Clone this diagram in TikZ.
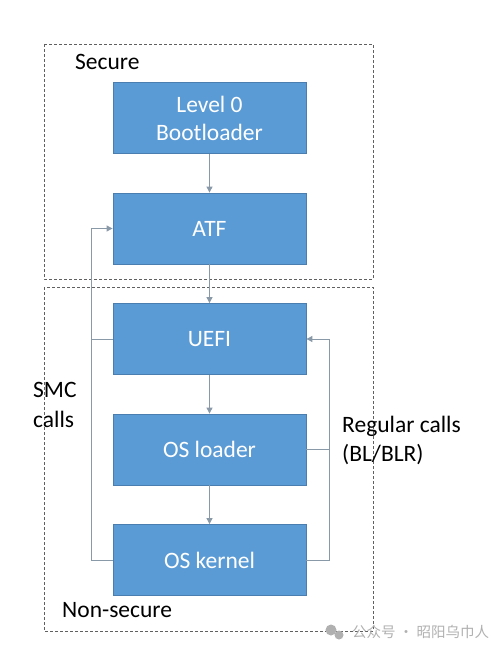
\documentclass[tikz,border=0pt]{standalone}
\usepackage{fontspec}
\setmainfont{Carlito}
\newfontfamily\cjk{Noto Sans CJK SC}
\usetikzlibrary{arrows.meta}
\definecolor{boxfill}{HTML}{5B9BD5}
\definecolor{boxedge}{HTML}{4A7EB0}
\definecolor{conn}{HTML}{8A99A8}
\definecolor{zonec}{HTML}{606060}
\definecolor{wmark}{HTML}{B0B0B0}
\begin{document}
\begin{tikzpicture}[x=1pt,y=-1pt,
  stagebox/.style={draw=boxedge, line width=0.8pt, fill=boxfill, text=white,
    minimum width=193pt, minimum height=71pt, align=center,
    font=\fontsize{23.5}{28}\selectfont, inner sep=0pt},
  zone/.style={draw=zonec, line width=0.6pt, dash pattern=on 3pt off 2pt},
  conline/.style={draw=conn, line width=0.9pt},
  arr/.style={conline, -{Triangle[length=6pt,width=6pt]}},
  lbl/.style={font=\fontsize{23.5}{29.5}\selectfont, text=black, inner sep=0pt}
]
\useasboundingbox (0,0) rectangle (503,652);
% zones
\draw[zone] (44,44) rectangle (373,279);
\draw[zone] (44,287) rectangle (373,631);
% stage boxes
\node[stagebox] (l0) at (209.5,118) {Level 0\\Bootloader};
\node[stagebox] (atf) at (209.5,228.5) {ATF};
\node[stagebox] (uefi) at (209.5,339) {UEFI};
\node[stagebox] (loader) at (209.5,449.5) {OS loader};
\node[stagebox] (kernel) at (209.5,560) {OS kernel};
% boot chain
\draw[arr] (l0) -- (atf);
\draw[arr] (atf) -- (uefi);
\draw[arr] (uefi) -- (loader);
\draw[arr] (loader) -- (kernel);
% SMC calls
\coordinate (smc) at (91,228.5);
\draw[arr] (kernel.west) -| (smc) -- (atf.west);
\draw[conline] (uefi.west) -- (uefi.west -| smc);
% regular calls
\coordinate (reg) at (329,339);
\draw[arr] (kernel.east) -| (reg) -- (uefi.east);
\draw[conline] (loader.east) -- (loader.east -| reg);
% labels
\node[lbl, anchor=base west] (sec) at (75,70) {Secure};
\node[lbl, anchor=base west] (nsec) at (62,617) {Non-secure};
\node[lbl, anchor=base west] (smc1) at (33,397) {SMC};
\node[lbl, anchor=base west] (smc2) at (33,427) {calls};
\node[lbl, anchor=base west] (reg1) at (342,432) {Regular calls};
\node[lbl, anchor=base west] (reg2) at (342,461.5) {(BL/BLR)};
% watermark
\fill[wmark] (331,630) circle (5.5pt);
\fill[wmark] (339,635) circle (4.5pt);
\node[anchor=west, inner sep=0pt, text=wmark, font=\cjk\fontsize{14.5}{16}\selectfont] (wm) at (352,632) {公众号 · 昭阳乌巾人};
\end{tikzpicture}
\end{document}
